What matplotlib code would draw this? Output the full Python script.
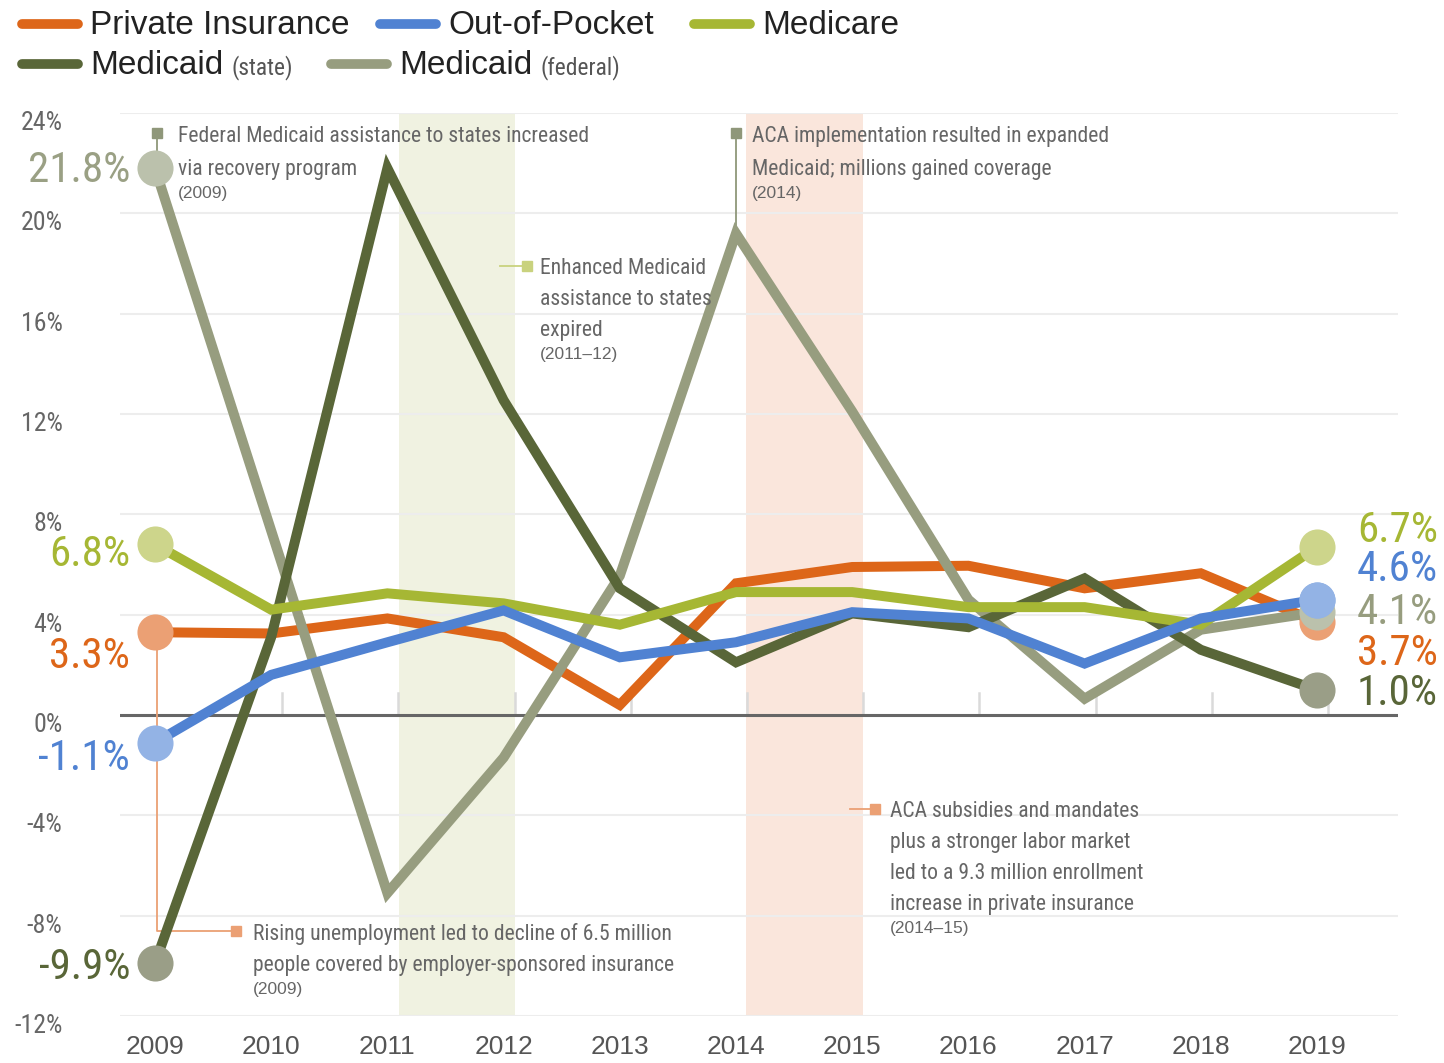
import matplotlib
matplotlib.use("Agg")
import matplotlib.pyplot as plt
from matplotlib import font_manager
from matplotlib.font_manager import FontProperties
from matplotlib.lines import Line2D

# data (annual % change)
years = [2009, 2010, 2011, 2012, 2013, 2014, 2015, 2016, 2017, 2018, 2019]
private_ins = [3.3, 3.25, 3.85, 3.1, 0.4, 5.25, 5.9, 5.95, 5.05, 5.65, 3.7]
out_of_pocket = [-1.1, 1.6, 2.9, 4.17, 2.3, 2.9, 4.1, 3.85, 2.05, 3.85, 4.6]
medicare = [6.8, 4.2, 4.85, 4.45, 3.6, 4.9, 4.9, 4.3, 4.3, 3.6, 6.7]
medicaid_state = [-9.9, 3.1, 21.8, 12.55, 5.05, 2.1, 4.05, 3.5, 5.45, 2.6, 1.0]
medicaid_fed = [21.8, 7.35, -7.1, -1.7, 5.55, 19.2, 12.1, 4.6, 0.65, 3.4, 4.1]

yticks = [-12, -8, -4, 0, 4, 8, 12, 16, 20, 24]
ytick_labels = ["-12%", "-8%", "-4%", "0%", "4%", "8%", "12%", "16%", "20%", "24%"]

names = set(f.name for f in font_manager.fontManager.ttflist)
REG = "Liberation Sans" if "Liberation Sans" in names else "DejaVu Sans"


def pick_narrow():
    # look for a condensed face; fall back to DejaVu Sans
    order = ["Liberation Sans Narrow", "Roboto Condensed", "Open Sans Condensed",
             "Noto Sans", "Open Sans", "Roboto", "DejaVu Sans"]
    found = {}
    for f in font_manager.fontManager.ttflist:
        narrow = ("Narrow" in f.name or "Condensed" in f.name or "ondensed" in str(f.stretch)
                  or "Condensed" in f.fname)
        if not narrow or f.style != "normal":
            continue
        if f.weight not in (400, "normal", "regular", "book"):
            continue
        if "Semi" in f.fname or "Extra" in f.fname or "Ultra" in f.fname:
            continue
        found.setdefault(f.name, f.fname)
    for n in order:
        if n in found:
            return FontProperties(fname=found[n])
    if found:
        return FontProperties(fname=sorted(found.values())[0])
    return FontProperties(family="DejaVu Sans")


NP = pick_narrow()

W, H = 1444, 1063
fig = plt.figure(figsize=(W / 100, H / 100), dpi=100)
rend = fig.canvas.get_renderer()


def fit(t, width):
    # scale a text's font size so it spans the given pixel width
    w = t.get_window_extent(rend).width
    t.set_fontsize(t.get_fontsize() * width / w)
    return t.get_fontsize()


ax = fig.add_axes([120 / W, (H - 1016) / H, 1278 / W, 903 / H])
ax.set_xlim(2008.699, 2019.697)
ax.set_ylim(-12, 24)
for s in ax.spines.values():
    s.set_visible(False)
ax.set_yticks([])
ax.set_xticks(years)
ax.set_xticklabels([str(y) for y in years], fontsize=19, family=REG, color="#555555")
ax.tick_params(axis="x", length=0, pad=14)

# shaded periods
ax.axvspan(2011.1, 2012.1, color="#F0F2E1", lw=0, zorder=0)
ax.axvspan(2014.09, 2015.09, color="#FAE6DC", lw=0, zorder=0)

# grid + y labels
ysize = None
for v, lab in zip(yticks, ytick_labels):
    if v != 0:
        ax.axhline(v, color="#EDEDED", lw=1.5, zorder=0.5)
    t = ax.text(-0.045, v - 0.4, lab, transform=ax.get_yaxis_transform(), ha="right",
                va="center", fontproperties=NP, color="#666666")
    t.set_fontsize(18)
    if lab == "24%":
        ysize = fit(t, 42)
for t in ax.texts:
    t.set_fontsize(ysize)
ax.axhline(0, color="#666666", lw=2.2, zorder=1)
for y in years[1:]:
    ax.plot([y + 0.095, y + 0.095], [0, 0.88], color="#DADADA", lw=1.8, zorder=0.8)

series = [
    (private_ins, "#DD6619", "#EBA074"),
    (medicaid_fed, "#979D7F", "#BBC1AC"),
    (medicaid_state, "#596638", "#9A9E87"),
    (medicare, "#A6B734", "#CDD58B"),
    (out_of_pocket, "#5082D2", "#93B3E5"),
]

# annotation connectors (under the lines/markers)
ann = "#666666"
c_fed = "#8F977A"
c_med = "#C9D27E"
c_or = "#EBA074"
ax.plot([2009.02, 2009.02], [23.19, 21.8], color=c_fed, lw=1.3, zorder=1.5)
ax.plot([2009.02], [23.19], "s", color=c_fed, ms=7, zorder=1.5, clip_on=False)
ax.plot([2014.0, 2014.0], [23.19, medicaid_fed[5]], color=c_fed, lw=1.3, zorder=1.5)
ax.plot([2014.0], [23.19], "s", color=c_fed, ms=7, zorder=1.5)
ax.plot([2011.97, 2012.2], [17.92, 17.92], color=c_med, lw=1.3, zorder=1.5)
ax.plot([2012.2], [17.92], "s", color=c_med, ms=7, zorder=1.5)
ax.plot([2014.98, 2015.2], [-3.73, -3.73], color=c_or, lw=1.3, zorder=1.5)
ax.plot([2015.2], [-3.73], "s", color=c_or, ms=7, zorder=1.5)
ax.plot([2009.02, 2009.02, 2009.7], [private_ins[0], -8.63, -8.63], color=c_or, lw=1.3, zorder=1.5)
ax.plot([2009.7], [-8.63], "s", color=c_or, ms=7, zorder=1.5)

for vals, col, mcol in series:
    ax.plot(years, vals, color=col, lw=7.2, solid_joinstyle="miter", zorder=3)
for vals, col, mcol in series:
    ax.plot([years[0], years[-1]], [vals[0], vals[-1]], "o", color=mcol, ms=26, mew=0, zorder=4)
ax.plot([years[-1]], [out_of_pocket[-1]], "o", color="#93B3E5", ms=26, mew=0, zorder=5)

# start / end value labels
probe = ax.text(0, 0, "21.8%", fontproperties=NP)
probe.set_fontsize(30)
vsize = fit(probe, 102)
probe.remove()

left_labels = [
    ("21.8%", 21.7, "#9AA084"),
    ("6.8%", 6.4, "#A6B734"),
    ("3.3%", 2.35, "#DD6619"),
    ("-1.1%", -1.75, "#5082D2"),
    ("-9.9%", -10.05, "#596638"),
]
for lab, yv, col in left_labels:
    t = ax.text((130 - 120) / 1278, yv, lab, transform=ax.get_yaxis_transform(), ha="right",
                va="center", fontproperties=NP, color=col, clip_on=False)
    t.set_fontsize(vsize)
right_labels = [
    ("6.7%", 7.35, "#A6B734"),
    ("4.6%", 5.8, "#5082D2"),
    ("4.1%", 4.1, "#979D7F"),
    ("3.7%", 2.45, "#DD6619"),
    ("1.0%", 0.85, "#596638"),
]
for lab, yv, col in right_labels:
    t = ax.text((1357 - 120) / 1278, yv, lab, transform=ax.get_yaxis_transform(), ha="left",
                va="center", fontproperties=NP, color=col, clip_on=False)
    t.set_fontsize(vsize)


def ftext(x, y, s, va="baseline", **kw):
    return fig.text(x / W, 1 - y / H, s, va=va, **kw)


probe = ftext(0, 0, "Federal Medicaid assistance to states increased", fontproperties=NP)
probe.set_fontsize(16)
asize = fit(probe, 406) * 1.02
probe.remove()


def note(x, base0, lines, year, step=32, ygap=23):
    for i, ln in enumerate(lines):
        t = ftext(x, base0 + i * step, ln, fontproperties=NP, color=ann)
        t.set_fontsize(asize)
    ftext(x, base0 + (len(lines) - 1) * step + ygap, year, fontsize=12.5, family=REG, color=ann)


note(178, 142, ["Federal Medicaid assistance to states increased", "via recovery program"], "(2009)", 33)
note(540, 274, ["Enhanced Medicaid", "assistance to states", "expired"], "(2011\u201312)", 31)
note(752, 142, ["ACA implementation resulted in expanded", "Medicaid; millions gained coverage"], "(2014)", 33)
note(890, 817, ["ACA subsidies and mandates", "plus a stronger labor market",
                "led to a 9.3 million enrollment", "increase in private insurance"], "(2014\u201315)", 31)
note(253, 940, ["Rising unemployment led to decline of 6.5 million",
                "people covered by employer-sponsored insurance"], "(2009)", 31)

probe = ftext(0, 0, "(state)", fontproperties=NP)
probe.set_fontsize(18)
ssize = fit(probe, 62)
probe.remove()


# legend (drawn by hand so the small "(state)" text fits)
def leg(x0, y, col, label, small=None):
    fig.add_artist(Line2D([x0 / W, (x0 + 56) / W], [1 - y / H, 1 - y / H], color=col,
                          lw=7, solid_capstyle="round"))
    t = fig.text((x0 + 68) / W, 1 - (y + 1) / H, label, va="center", fontsize=24,
                 family=REG, color="#222222")
    if small:
        bb = t.get_window_extent(rend)
        s = fig.text((bb.x1 + 8) / W, 1 - (y + 4) / H, small, va="center",
                     fontproperties=NP, color="#555555")
        s.set_fontsize(ssize)


leg(22, 24, "#DD6619", "Private Insurance")
leg(380, 24, "#5082D2", "Out-of-Pocket")
leg(694, 24, "#A6B734", "Medicare")
leg(22, 64, "#596638", "Medicaid", "(state)")
leg(331, 64, "#979D7F", "Medicaid", "(federal)")

fig.savefig("out.png", dpi=100)
